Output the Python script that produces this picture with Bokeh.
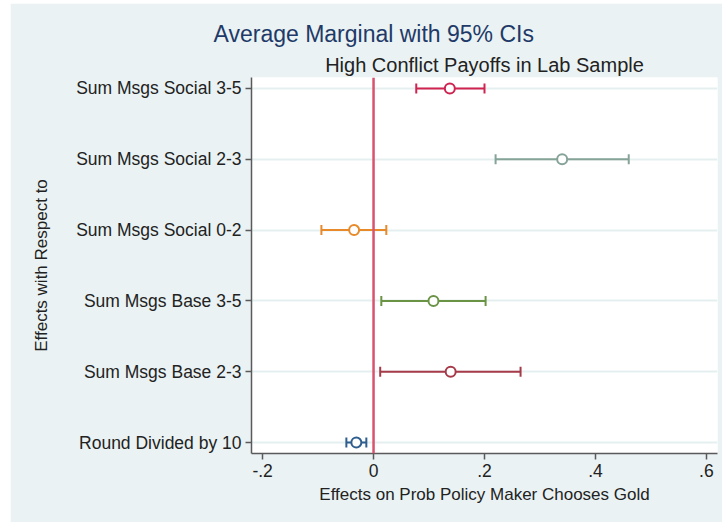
from bokeh.plotting import figure
from bokeh.models import ColumnDataSource, FixedTicker, Span, Title
from bokeh.embed import file_html
from bokeh.resources import INLINE
import numpy as np

# ---- data ----
categories = ["Round Divided by 10", "Sum Msgs Base 2-3", "Sum Msgs Base 3-5",
              "Sum Msgs Social 0-2", "Sum Msgs Social 2-3", "Sum Msgs Social 3-5"]
estimate = [-0.031, 0.139, 0.108, -0.035, 0.340, 0.1375]
ci_low = [-0.049, 0.012, 0.014, -0.094, 0.220, 0.077]
ci_high = [-0.013, 0.265, 0.202, 0.023, 0.460, 0.200]
colors = ["#2f5f8f", "#a63a48", "#6a9444", "#e8892a", "#86a398", "#cf2350"]
x_ticks = [-0.2, 0.0, 0.2, 0.4, 0.6]
x_tick_labels = ["-.2", "0", ".2", ".4", ".6"]

ypos = list(range(1, len(categories) + 1))

src = ColumnDataSource(dict(y=ypos, est=estimate, lo=ci_low, hi=ci_high,
                            color=colors))

FONT = "Liberation Sans"

p = figure(width=712, height=519, x_range=(-0.22, 0.62), y_range=(0.845, 6.155),
           output_backend="svg", toolbar_location=None, title=None,
           min_border_left=241, min_border_right=5, min_border_top=74,
           min_border_bottom=69)
p.margin = (3, 0, 0, 10)
p.border_fill_color = "#eaf2f3"
p.background_fill_color = "white"
p.outline_line_color = None

# titles
sub = Title(text="High Conflict Payoffs in Lab Sample", align="center",
            text_font=FONT, text_font_size="20px", text_font_style="normal",
            text_color="#222222", standoff=3)
main = Title(text="Average Marginal with 95% CIs", align="left", offset=-38,
             text_font=FONT, text_font_size="23px", text_font_style="normal",
             text_color="#1f3a68", standoff=8)
p.add_layout(sub, "above")
p.add_layout(main, "above")

# axes
p.xaxis.ticker = FixedTicker(ticks=x_ticks)
p.xaxis.major_label_overrides = {t: l for t, l in zip(x_ticks, x_tick_labels)}
p.yaxis.ticker = FixedTicker(ticks=ypos)
p.yaxis.major_label_overrides = {y: c for y, c in zip(ypos, categories)}

for ax in (p.xaxis, p.yaxis):
    ax.axis_line_color = "#5a5a5a"
    ax.axis_line_width = 1.5
    ax.major_tick_line_color = "#5a5a5a"
    ax.major_tick_line_width = 1.5
    ax.major_tick_out = 6
    ax.major_tick_in = 0
    ax.minor_tick_line_color = None
    ax.major_label_text_font = FONT
    ax.major_label_text_font_size = "17.5px"
    ax.major_label_text_color = "#222222"
    ax.axis_label_text_font = FONT
    ax.axis_label_text_font_size = "17px"
    ax.axis_label_text_font_style = "normal"
    ax.axis_label_text_color = "#222222"

p.xaxis.axis_label = "Effects on Prob Policy Maker Chooses Gold"
p.yaxis.axis_label = "Effects with Respect to"
p.xaxis.major_label_standoff = 4
p.yaxis.major_label_standoff = 4
p.xaxis.axis_label_standoff = 5
p.yaxis.axis_label_standoff = 22

p.xgrid.visible = False
p.ygrid.grid_line_color = "#e6eff0"
p.ygrid.grid_line_width = 2

# CI bars
p.segment(x0="lo", x1="hi", y0="y", y1="y", line_color="color", line_width=2,
          source=src)
p.scatter(x="lo", y="y", marker="dash", angle=np.pi / 2, size=10,
          line_color="color", line_width=2, source=src)
p.scatter(x="hi", y="y", marker="dash", angle=np.pi / 2, size=10,
          line_color="color", line_width=2, source=src)
p.scatter(x="est", y="y", marker="circle", size=10, fill_color="white",
          line_color="color", line_width=2, source=src)

p.add_layout(Span(location=0, dimension="height", line_color="#d9536f",
                  line_width=2.5))

open("out.html", "w").write(file_html(p, INLINE))
